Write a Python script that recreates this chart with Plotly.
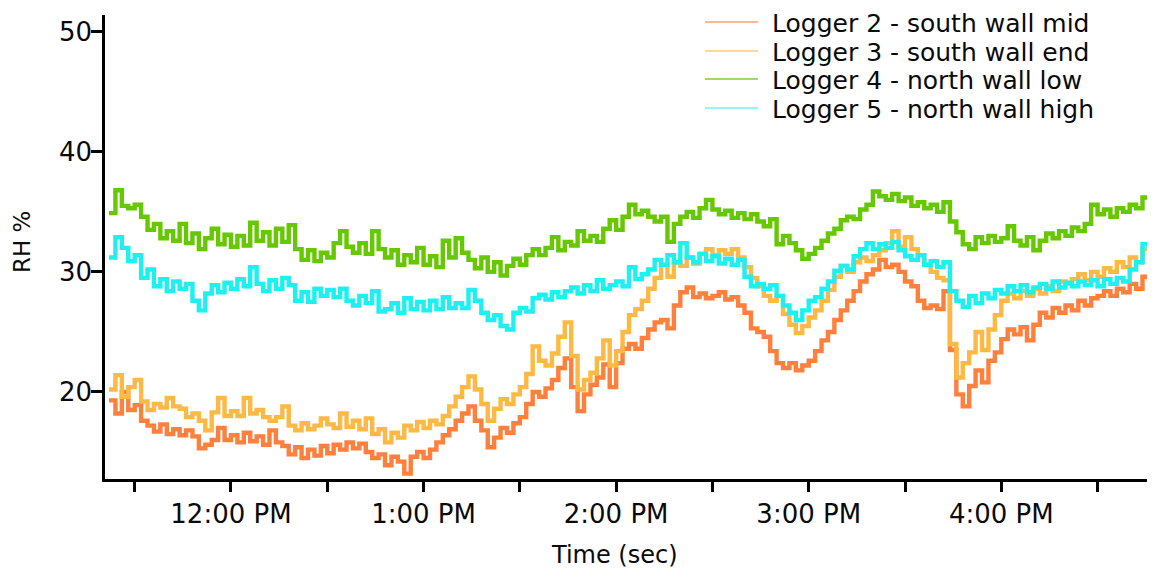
import pandas as pd
import plotly.graph_objects as go

# Relative humidity readings, sampled every 2 minutes from 11:22 AM
START = "2021-06-01 11:22"
STEP = "2min"

series_names = [
    "Logger 2 - south wall mid",
    "Logger 3 - south wall end",
    "Logger 4 - north wall low",
    "Logger 5 - north wall high",
]

logger2 = [
    19.3, 18.2, 20.0, 18.5, 18.9, 17.6, 17.2, 16.7, 17.3, 16.5,
    16.9, 16.4, 16.8, 16.3, 15.3, 15.6, 16.0, 17.0, 16.0, 16.4,
    15.8, 16.6, 15.9, 16.3, 15.6, 16.8, 15.8, 15.5, 14.8, 15.4,
    14.5, 15.2, 14.7, 15.5, 14.9, 15.6, 15.2, 15.8, 15.3, 15.7,
    15.0, 14.5, 14.8, 13.9, 14.6, 14.2, 13.2, 14.6, 15.0, 14.5,
    15.2, 15.8, 16.4, 16.9, 17.6, 18.2, 18.8, 17.6, 16.8, 15.4,
    16.2, 17.0, 16.6, 17.4, 17.9, 19.0, 20.0, 19.6, 20.3, 21.0,
    22.0, 22.8, 20.4, 18.4, 19.8, 20.6, 21.2, 22.3, 20.4, 22.4,
    23.6, 24.0, 23.6, 24.5, 25.2, 25.8, 26.0, 25.3, 27.2, 28.3,
    28.7, 27.9, 28.2, 27.8, 28.0, 28.3, 27.7, 27.9, 27.2, 26.6,
    25.3, 25.0, 24.6, 23.4, 22.4, 22.0, 22.4, 21.8, 22.2, 22.6,
    23.4, 24.3, 25.0, 26.0, 26.8, 27.6, 28.4, 29.2, 29.8, 30.2,
    31.0, 30.4, 30.6, 30.0, 29.2, 28.8, 27.6, 27.0, 27.2, 26.9,
    28.4, 23.5, 19.8, 18.8, 20.5, 21.8, 20.8, 22.6, 23.3, 24.4,
    25.2, 24.8, 25.4, 24.3, 25.6, 26.6, 26.2, 27.0, 26.6, 27.2,
    26.8, 27.6, 27.2, 27.8, 28.0, 28.4, 28.0, 28.6, 28.3, 29.0,
    28.6, 29.6, 29.2,
]

logger3 = [
    20.2, 21.4, 19.6, 20.4, 21.0, 19.2, 18.5, 19.0, 18.7, 19.5,
    18.8, 18.6, 17.9, 18.2, 17.6, 16.8, 18.3, 19.5, 18.0, 18.4,
    18.0, 19.5, 18.2, 18.5, 17.9, 17.6, 17.9, 18.8, 17.2, 16.8,
    17.4, 16.9, 17.2, 17.8, 17.3, 17.0, 18.2, 17.1, 17.6, 16.9,
    17.8, 16.5, 16.9, 15.8, 16.6, 16.2, 17.2, 16.8, 17.5, 17.0,
    17.6, 17.3, 18.0, 18.8, 19.6, 20.4, 21.3, 20.2, 19.0, 17.6,
    18.6, 19.4, 19.0, 19.8, 20.4, 21.5, 23.8, 22.6, 22.2, 23.2,
    24.6, 25.8, 23.0, 20.2, 21.0, 21.6, 22.8, 24.3, 22.2, 23.4,
    25.0, 26.4, 26.9, 27.6, 28.6, 29.5, 30.6, 29.6, 30.8, 30.5,
    31.2, 30.7, 31.5, 31.9, 31.4, 31.8, 31.5, 31.9, 31.2, 30.4,
    29.5, 28.8, 28.0, 27.6, 28.0, 26.5, 25.6, 24.9, 25.5, 26.2,
    26.8, 27.6, 28.5, 29.6, 30.5, 30.0, 30.8, 31.2, 30.9, 31.4,
    31.8, 32.4, 33.4, 32.1, 32.9, 31.9, 31.4, 30.6, 30.0, 29.5,
    29.3, 24.0, 21.2, 22.4, 23.3, 25.0, 23.5, 25.2, 26.4, 27.6,
    28.2, 27.8, 28.4, 28.0, 28.6, 28.2, 28.8, 28.4, 29.2, 29.0,
    29.4, 29.8, 29.3, 30.0, 29.6, 30.3, 30.0, 30.8, 30.4, 31.2,
    30.8, 31.9, 31.4,
]

logger4 = [
    34.9, 36.8, 35.5, 35.3, 35.6, 34.6, 33.5, 34.0, 32.8, 33.4,
    32.6, 34.0, 32.4, 33.2, 31.9, 32.8, 33.6, 32.3, 33.1, 32.1,
    33.0, 32.2, 34.1, 32.6, 33.3, 32.2, 33.6, 32.5, 33.9, 31.9,
    31.0, 31.8, 30.9, 31.6, 31.2, 32.4, 33.4, 32.1, 31.6, 32.4,
    31.5, 33.4, 31.9, 31.2, 31.8, 30.6, 31.4, 30.8, 32.0, 30.6,
    31.3, 30.4, 32.6, 31.2, 32.8, 31.6, 31.0, 30.3, 31.2, 30.0,
    30.8, 29.7, 30.5, 31.1, 30.6, 31.4, 31.9, 31.4, 32.0, 32.9,
    31.8, 32.5, 32.2, 33.4, 32.6, 33.0, 32.5, 33.6, 34.3, 33.5,
    34.6, 35.6, 34.8, 35.1, 34.6, 34.2, 34.6, 32.5, 34.0, 34.6,
    35.0, 34.5, 35.3, 36.0, 35.2, 34.8, 35.1, 34.5, 34.9, 34.4,
    34.8, 34.2, 33.8, 34.4, 32.3, 33.0, 32.4, 31.8, 31.1, 31.5,
    32.0, 32.6, 33.2, 33.6, 34.3, 34.6, 34.4, 35.2, 35.6, 36.7,
    36.3, 36.0, 36.5, 35.9, 36.2, 35.5, 35.8, 35.3, 35.6, 35.0,
    35.8, 34.2, 33.3, 32.3, 31.9, 32.9, 32.4, 33.0, 32.5, 32.8,
    33.8, 32.6, 32.2, 32.9, 31.8, 32.6, 33.2, 32.8, 33.4, 33.0,
    33.7, 33.4, 34.0, 35.6, 34.8, 35.2, 34.6, 35.3, 35.0, 35.6,
    35.3, 36.2, 36.0,
]

logger5 = [
    31.2, 32.9, 32.0, 30.9, 31.4, 29.5, 30.2, 28.8, 29.4, 28.4,
    29.2, 28.6, 29.0, 27.6, 26.8, 28.2, 28.9, 28.3, 29.1, 28.6,
    29.4, 28.8, 30.4, 29.0, 28.4, 29.3, 28.6, 29.5, 28.9, 27.6,
    28.3, 27.5, 28.6, 28.0, 28.5, 27.9, 28.6, 27.6, 27.2, 28.0,
    27.4, 28.4, 26.7, 26.9, 27.4, 26.6, 27.8, 26.9, 27.5, 26.8,
    27.6, 26.9, 27.9, 27.0, 27.4, 27.0, 28.5, 27.6, 26.6, 26.0,
    26.4, 25.5, 25.2, 26.6, 27.0, 26.7, 27.8, 28.1, 27.7, 28.3,
    27.9, 28.4, 28.7, 28.2, 28.9, 28.4, 29.3, 28.6, 28.9, 29.2,
    28.8, 30.4, 29.4, 29.8, 30.2, 31.0, 30.6, 31.4, 30.8, 32.4,
    31.2, 30.8, 31.5, 30.9, 31.3, 30.7, 31.1, 30.6, 31.0, 29.6,
    28.8, 29.0, 28.6, 28.9, 28.0, 27.2, 26.6, 26.0, 26.8, 27.6,
    27.9, 28.6, 29.2, 30.1, 30.5, 30.2, 31.3, 31.9, 32.4, 31.9,
    32.3, 32.0, 32.5, 31.8, 31.3, 31.0, 31.4, 30.6, 30.9, 30.4,
    30.8, 28.4, 27.6, 27.1, 28.0, 27.4, 28.2, 27.8, 28.5, 28.2,
    28.8, 28.4, 28.9, 28.3, 28.7, 29.0, 28.6, 29.2, 28.7, 29.1,
    28.8, 29.2, 28.9, 29.3, 28.8, 29.4, 29.0, 29.5, 29.2, 30.2,
    30.8, 32.3, 31.8,
]

series_values = [logger2, logger3, logger4, logger5]
series_colors = ["#FF7F3C", "#FDB944", "#66C800", "#1CF0F0"]
legend_colors = ["#F7A077", "#F9CC7A", "#7FCB3A", "#6FF2F2"]

y_ticks = [20, 30, 40, 50]
x_tick_times = [
    "11:30", "12:00", "12:30", "13:00", "13:30", "14:00",
    "14:30", "15:00", "15:30", "16:00", "16:30",
]
x_tick_labels = ["", "12:00 PM", "", "1:00 PM", "", "2:00 PM",
                 "", "3:00 PM", "", "4:00 PM", ""]

DAY = START.split(" ")[0]
times = pd.date_range(START, periods=len(logger2), freq=STEP)

FONT = "DejaVu Sans"
INK = "#0a0a0a"
W, H = 1154, 573
M_L, M_R, M_T, M_B = 105, 7, 15, 94
PW, PH = W - M_L - M_R, H - M_T - M_B


def px_x(px):
    return (px - M_L) / PW


def px_y(py):
    return (H - M_B - py) / PH


fig = go.Figure()
for name, vals, col in zip(series_names, series_values, series_colors):
    fig.add_trace(go.Scatter(
        x=times, y=vals, name=name, mode="lines",
        line=dict(color=col, width=4.4, shape="hv"),
        showlegend=False,
    ))

# Legend drawn as short thin sample lines with labels at top right
shapes = []
annotations = []
row_y = [22, 51, 79, 108]
for name, col, ry in zip(series_names, legend_colors, row_y):
    shapes.append(dict(
        type="line", xref="paper", yref="paper",
        x0=px_x(705), x1=px_x(758), y0=px_y(ry), y1=px_y(ry),
        line=dict(color=col, width=1.6),
    ))
    annotations.append(dict(
        text=name, xref="paper", yref="paper",
        x=px_x(770), y=px_y(ry + 1), xanchor="left", yanchor="middle",
        showarrow=False, font=dict(family=FONT, size=25, color=INK),
    ))

annotations.append(dict(
    text="RH %", xref="paper", yref="paper", textangle=-90,
    x=px_x(22), y=px_y(242), xanchor="center", yanchor="middle",
    showarrow=False, font=dict(family=FONT, size=23, color=INK),
))
annotations.append(dict(
    text="Time (sec)", xref="paper", yref="paper",
    x=px_x(614), y=px_y(555), xanchor="center", yanchor="middle",
    showarrow=False, font=dict(family=FONT, size=24, color=INK),
))

fig.update_layout(
    width=W, height=H,
    margin=dict(l=M_L, r=M_R, t=M_T, b=M_B, pad=0),
    paper_bgcolor="white", plot_bgcolor="white",
    showlegend=False,
    shapes=shapes, annotations=annotations,
    font=dict(family=FONT, size=24, color=INK),
)
fig.update_xaxes(
    range=[f"{DAY} 11:20:45", f"{DAY} 16:45:24"],
    tickvals=[f"{DAY} {t}" for t in x_tick_times],
    ticktext=x_tick_labels,
    ticks="outside", ticklen=10, tickwidth=2.5, tickcolor="black",
    showline=True, linewidth=2.5, linecolor="black",
    showgrid=False, zeroline=False,
    tickfont=dict(family=FONT, size=26, color=INK),
)
fig.update_yaxes(
    range=[12.75, 51.4],
    tickvals=y_ticks,
    ticks="outside", ticklen=11, tickwidth=2.5, tickcolor="black",
    showline=True, linewidth=2.5, linecolor="black",
    showgrid=False, zeroline=False,
    ticklabelstandoff=-6,
    tickfont=dict(family=FONT, size=26, color=INK),
)

fig.write_html("out.html")
